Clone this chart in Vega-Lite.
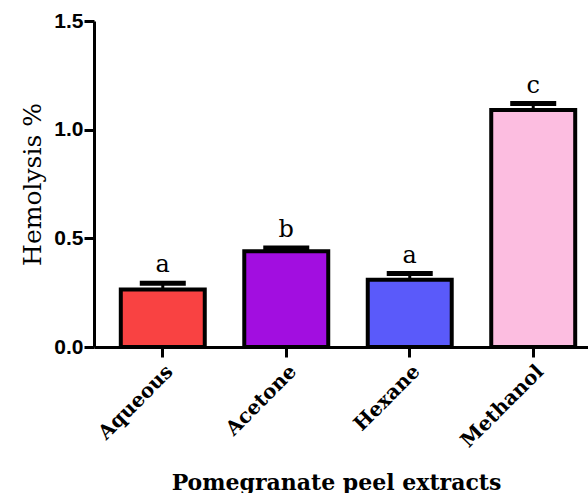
{
  "$schema": "https://vega.github.io/schema/vega-lite/v6.json",
  "width": 508,
  "height": 326,
  "padding": {"left": 20, "top": 10, "right": 0, "bottom": 0},
  "autosize": {"type": "pad"},
  "background": "white",
  "config": {"view": {"stroke": null}},
  "data": {
    "values": [
      {"extract": "Aqueous", "mean": 0.265, "err": 0.028, "group": "a", "upper": 0.293},
      {"extract": "Acetone", "mean": 0.44, "err": 0.015, "group": "b", "upper": 0.455},
      {"extract": "Hexane", "mean": 0.31, "err": 0.028, "group": "a", "upper": 0.338},
      {"extract": "Methanol", "mean": 1.09, "err": 0.03, "group": "c", "upper": 1.12}
    ]
  },
  "encoding": {
    "x": {
      "field": "extract",
      "type": "nominal",
      "sort": null,
      "scale": {"paddingInner": 0.32, "paddingOuter": 0.217},
      "axis": {
        "title": "Pomegranate peel extracts",
        "titleFont": "DejaVu Serif",
        "titleFontSize": 22,
        "titleFontWeight": "bold",
        "titleColor": "black",
        "titleX": 242,
        "titleY": 142,
        "titleAlign": "center",
        "titleBaseline": "alphabetic",
        "labelAngle": -45,
        "labelFont": "DejaVu Serif",
        "labelFontSize": 20,
        "labelFontWeight": "bold",
        "labelColor": "black",
        "labelPadding": 4,
        "tickSize": 10,
        "tickWidth": 3,
        "tickColor": "black",
        "domainColor": "black",
        "domainWidth": 3
      }
    },
    "y": {
      "field": "mean",
      "type": "quantitative",
      "scale": {"domain": [0, 1.5], "nice": false, "zero": true},
      "axis": {
        "title": "Hemolysis %",
        "titleFont": "DejaVu Serif",
        "titleFontSize": 25,
        "titleFontWeight": "normal",
        "titleColor": "black",
        "titlePadding": 8,
        "values": [0, 0.5, 1.0, 1.5],
        "format": ".1f",
        "labelFont": "Liberation Sans",
        "labelFontSize": 21,
        "labelFontWeight": "bold",
        "labelColor": "black",
        "labelPadding": 1,
        "tickSize": 10,
        "tickWidth": 3,
        "tickColor": "black",
        "domainColor": "black",
        "domainWidth": 3,
        "grid": false
      }
    }
  },
  "layer": [
    {
      "mark": {"type": "rule", "color": "black", "strokeWidth": 3},
      "encoding": {
        "y2": {"field": "upper"}
      }
    },
    {
      "mark": {"type": "tick", "color": "black", "thickness": 5, "size": 46, "opacity": 1},
      "encoding": {
        "y": {"field": "upper", "type": "quantitative"}
      }
    },
    {
      "mark": {"type": "bar", "stroke": "black", "strokeWidth": 4},
      "encoding": {
        "color": {
          "field": "extract",
          "type": "nominal",
          "sort": null,
          "scale": {
            "domain": ["Aqueous", "Acetone", "Hexane", "Methanol"],
            "range": ["#f94242", "#a20ee0", "#5a5afa", "#fcbde0"]
          },
          "legend": null
        }
      }
    },
    {
      "mark": {"type": "text", "font": "DejaVu Serif", "fontSize": 24, "color": "black", "baseline": "bottom", "dy": -6},
      "encoding": {
        "y": {"field": "upper", "type": "quantitative"},
        "text": {"field": "group"}
      }
    }
  ]
}
